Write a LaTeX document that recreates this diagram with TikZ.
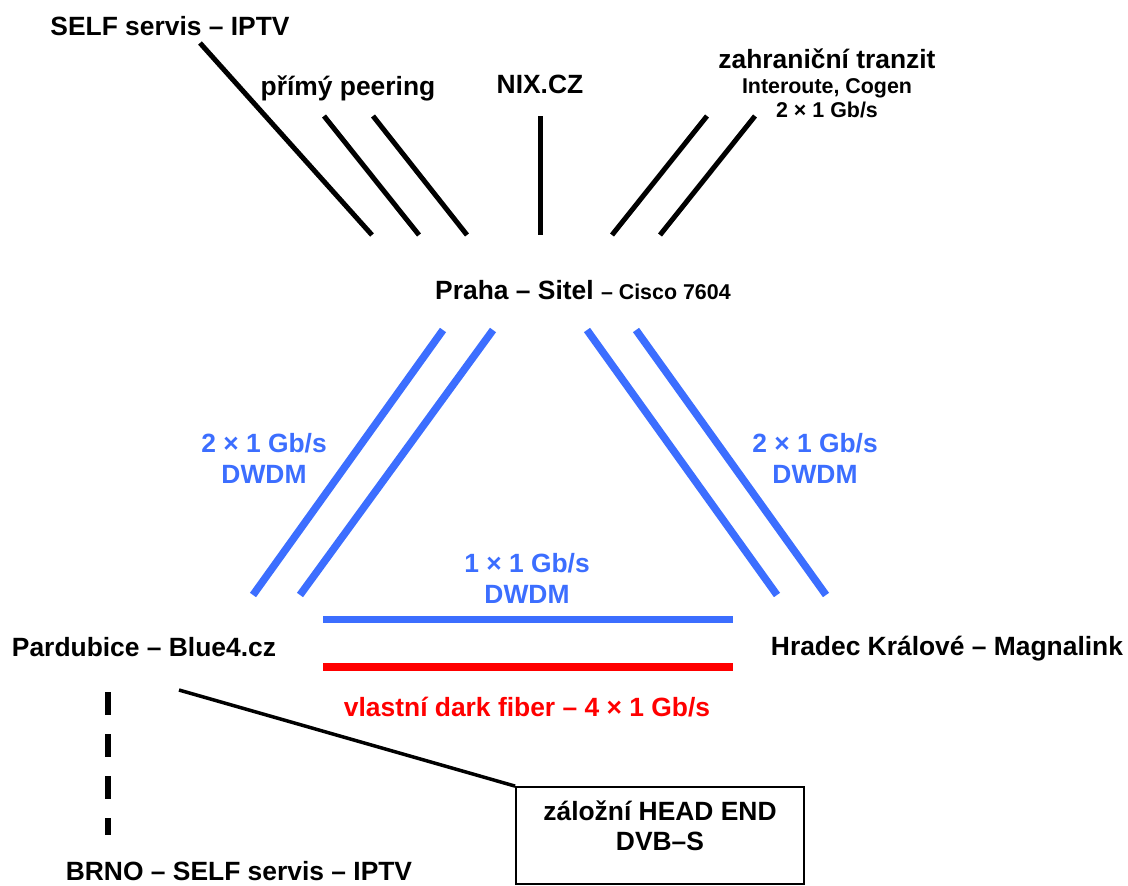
\documentclass[tikz,border=0pt]{standalone}
\usepackage{fontspec}
\setmainfont{Liberation Sans}
\definecolor{dwdm}{RGB}{60,110,255}
\definecolor{fiber}{RGB}{255,0,0}
\begin{document}
\begin{tikzpicture}[x=1pt,y=-1pt,
  lbl/.style={font=\fontsize{26.4}{30}\selectfont\bfseries, anchor=base, inner sep=0pt},
  sml/.style={font=\fontsize{21.4}{25}\selectfont\bfseries, anchor=base, inner sep=0pt},
  blk/.style={line width=5pt, black},
  blu/.style={line width=7.5pt, dwdm},
  red/.style={line width=8pt, fiber},
  dsh/.style={line width=6pt, black, dash pattern=on 23pt off 19pt},
  boxst/.style={draw, line width=1.8pt, minimum width=288pt, minimum height=97pt, inner sep=0pt}]
\useasboundingbox (0,0) rectangle (1128,886);
% labels
\node[lbl] (self) at (170,35) {SELF servis -- IPTV};
\node[lbl] (peer) at (348,95) {přímý peering};
\node[lbl] (nix) at (540,93) {NIX.CZ};
\node[lbl] (tranz) at (827,68) {zahraniční tranzit};
\node[sml] (tranz2) at (827,93) {Interoute, Cogen};
\node[sml] (tranz3) at (827,117) {2 × 1 Gb/s};
\node[anchor=base west, inner sep=0pt] (praha) at (435,299) {\fontsize{26.4}{30}\selectfont\bfseries Praha -- Sitel \fontsize{21.4}{25}\selectfont -- Cisco 7604};
\node[lbl, text=dwdm] (l1) at (264,452) {2 × 1 Gb/s};
\node[lbl, text=dwdm] (l2) at (264,483) {DWDM};
\node[lbl, text=dwdm] (r1) at (815,452) {2 × 1 Gb/s};
\node[lbl, text=dwdm] (r2) at (815,483) {DWDM};
\node[lbl, text=dwdm] (m1) at (527,572) {1 × 1 Gb/s};
\node[lbl, text=dwdm] (m2) at (527,603) {DWDM};
\node[lbl] (pard) at (144,656) {Pardubice -- Blue4.cz};
\node[lbl] (hk) at (947,655) {Hradec Králové -- Magnalink};
\node[lbl, text=fiber] (dark) at (527,716) {vlastní dark fiber -- 4 × 1 Gb/s};
\node[lbl] (brno) at (239,880) {BRNO -- SELF servis -- IPTV};
\node[boxst] (he) at (660,835.5) {};
\node[lbl] (he1) at (660,820) {záložní HEAD END};
\node[lbl] (he2) at (660,850) {DVB--S};
% line end coordinates
\coordinate (a1) at (200,43); \coordinate (a2) at (372,235);
\coordinate (b1) at (324,116); \coordinate (b2) at (419,235);
\coordinate (c1) at (373,116); \coordinate (c2) at (467,235);
\coordinate (d1) at (540,116); \coordinate (d2) at (540,235);
\coordinate (e1) at (707,116); \coordinate (e2) at (612,235);
\coordinate (f1) at (755,116); \coordinate (f2) at (660,235);
\coordinate (g1) at (443,330); \coordinate (g2) at (253,595);
\coordinate (h1) at (493,330); \coordinate (h2) at (300,595);
\coordinate (i1) at (587,330); \coordinate (i2) at (777,595);
\coordinate (j1) at (636,330); \coordinate (j2) at (826,595);
\coordinate (k1) at (323,619.5); \coordinate (k2) at (733,619.5);
\coordinate (n1) at (323,667); \coordinate (n2) at (733,667);
\coordinate (p1) at (108,692); \coordinate (p2) at (108,835);
\coordinate (q1) at (179,690);
% lines
\draw[blk] (a1) -- (a2);
\draw[blk] (b1) -- (b2);
\draw[blk] (c1) -- (c2);
\draw[blk] (d1) -- (d2);
\draw[blk] (e1) -- (e2);
\draw[blk] (f1) -- (f2);
\draw[blu] (g1) -- (g2);
\draw[blu] (h1) -- (h2);
\draw[blu] (i1) -- (i2);
\draw[blu] (j1) -- (j2);
\draw[blu] (k1) -- (k2);
\draw[red] (n1) -- (n2);
\draw[dsh] (p1) -- (p2);
\draw[line width=3.5pt] (q1) -- (he.north west);
\end{tikzpicture}
\end{document}
